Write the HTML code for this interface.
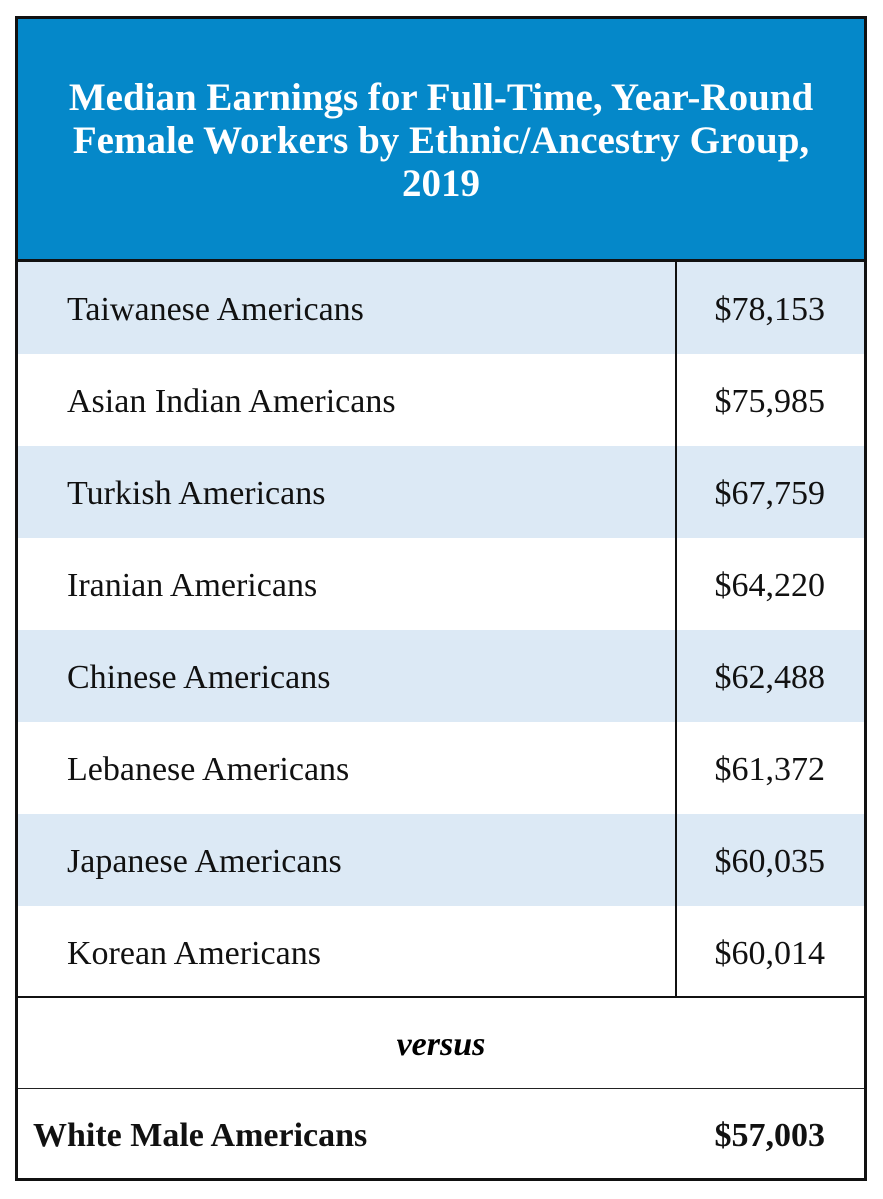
<!DOCTYPE html>
<html><head><meta charset="utf-8"><style>
body{margin:0;width:883px;height:1199px;background:#fff;position:relative;font-family:"Liberation Serif",serif;overflow:hidden}
#frame{position:absolute;left:15px;top:16px;width:846px;height:1159px;border:3px solid #111;}
#header{position:absolute;left:0;top:0;width:846px;height:240px;background:#0588c9;border-bottom:3px solid #111;}
#title{position:absolute;left:0;top:57px;width:846px;text-align:center;color:#fff;font-weight:bold;font-size:39px;line-height:43px;white-space:nowrap}
.row{position:absolute;left:0;width:846px;height:92px}
.lbl{position:absolute;left:49px;top:2px;line-height:92px;font-size:34px;color:#111;white-space:nowrap}
.val{position:absolute;right:39px;top:2px;line-height:92px;font-size:34px;color:#111}
#vdiv{position:absolute;left:657px;top:243px;width:2px;height:734px;background:#111}
</style></head><body>
<div id="frame">
<div id="header">
<div id="title">Median Earnings for Full-Time, Year-Round<br>Female Workers by Ethnic/Ancestry Group,<br>2019</div>
</div>
<div id="rows"></div>
<div id="vdiv"></div>
<div style="position:absolute;left:0;top:977px;width:846px;height:2px;background:#111"></div>
<div class="row" style="top:979px;height:90px"><div style="position:absolute;left:0;top:2px;width:846px;text-align:center;line-height:90px;font-size:34px;font-style:italic;font-weight:bold">versus</div></div>
<div style="position:absolute;left:0;top:1069px;width:846px;height:1px;background:#222"></div>
<div class="row" style="top:1070px;height:89px">
<div class="lbl" style="left:15px;font-weight:bold;line-height:89px">White Male Americans</div>
<div class="val" style="font-weight:bold;line-height:89px">$57,003</div>
</div>
</div>
<script>
const groups=["Taiwanese Americans","Asian Indian Americans","Turkish Americans","Iranian Americans","Chinese Americans","Lebanese Americans","Japanese Americans","Korean Americans"];
const earnings=[78153,75985,67759,64220,62488,61372,60035,60014];
const rows=document.getElementById('rows');
groups.forEach((g,i)=>{
  const r=document.createElement('div');
  r.className='row';
  r.style.top=(243+i*92)+'px';
  r.style.background=i%2===0?'#dce9f5':'#fff';
  
  
  const l=document.createElement('div');
  l.className='lbl';
  l.textContent=g;
  
  
  const v=document.createElement('div');
  v.className='val';
  v.textContent='$'+earnings[i].toLocaleString('en-US');
  
  
  r.appendChild(l);r.appendChild(v);rows.appendChild(r);
});
</script>
</body></html>
